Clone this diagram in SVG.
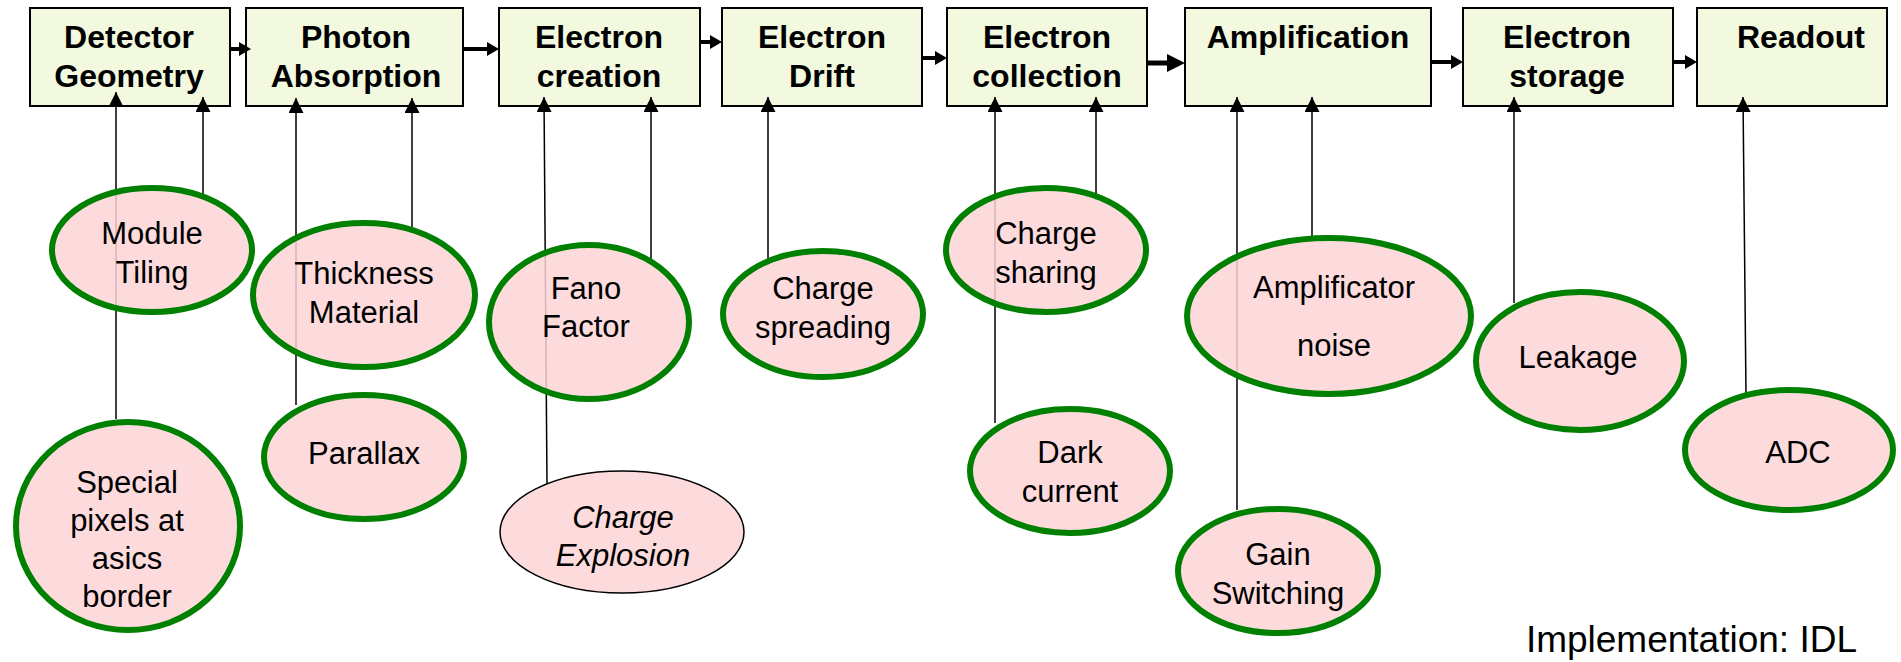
<svg xmlns="http://www.w3.org/2000/svg" width="1901" height="662" viewBox="0 0 1901 662">
  <style>
    .stage { fill: #f2f9de; stroke: #000; stroke-width: 2; }
    .stage-label { font-family: "Liberation Sans", Arial, sans-serif; font-weight: bold; font-size: 32px; fill: #000; text-anchor: middle; }
    .effect { fill: #fdd5d6; fill-opacity: 0.85; stroke: #008000; stroke-width: 6; }
    .effect-thin { fill: #fdd5d6; fill-opacity: 0.85; stroke: #000; stroke-width: 1.5; }
    .effect-label { font-family: "Liberation Sans", Arial, sans-serif; font-size: 31px; fill: #000; text-anchor: middle; }
    .feed { stroke: #000; stroke-width: 1.5; fill: none; marker-end: url(#tipUp); }
    .flow { stroke: #000; stroke-width: 4; fill: none; }
    .head { fill: #000; }
    .note { font-family: "Liberation Sans", Arial, sans-serif; font-size: 37px; fill: #000; text-anchor: end; }
  </style>
  <defs>
    <marker id="tipUp" viewBox="0 0 15 15" markerWidth="15" markerHeight="15" refX="15" refY="7.5" orient="auto" markerUnits="userSpaceOnUse">
      <path d="M0,0 L15,7.5 L0,15 z" fill="#000"/>
    </marker>
  </defs>

  <rect width="1901" height="662" fill="#fff"/>

  <!-- processing stages -->
  <g id="stage-geometry">
    <rect class="stage" x="30" y="8" width="200" height="98"/>
    <text class="stage-label" x="129" y="48">Detector</text>
    <text class="stage-label" x="129" y="87">Geometry</text>
  </g>
  <g id="stage-absorption">
    <rect class="stage" x="246" y="8" width="217" height="98"/>
    <text class="stage-label" x="356" y="48">Photon</text>
    <text class="stage-label" x="356" y="87">Absorption</text>
  </g>
  <g id="stage-creation">
    <rect class="stage" x="499" y="8" width="201" height="98"/>
    <text class="stage-label" x="599" y="48">Electron</text>
    <text class="stage-label" x="599" y="87">creation</text>
  </g>
  <g id="stage-drift">
    <rect class="stage" x="722" y="8" width="200" height="98"/>
    <text class="stage-label" x="822" y="48">Electron</text>
    <text class="stage-label" x="822" y="87">Drift</text>
  </g>
  <g id="stage-collection">
    <rect class="stage" x="947" y="8" width="200" height="98"/>
    <text class="stage-label" x="1047" y="48">Electron</text>
    <text class="stage-label" x="1047" y="87">collection</text>
  </g>
  <g id="stage-amplification">
    <rect class="stage" x="1185" y="8" width="246" height="98"/>
    <text class="stage-label" x="1308" y="48">Amplification</text>
  </g>
  <g id="stage-storage">
    <rect class="stage" x="1463" y="8" width="210" height="98"/>
    <text class="stage-label" x="1567" y="48">Electron</text>
    <text class="stage-label" x="1567" y="87">storage</text>
  </g>
  <g id="stage-readout">
    <rect class="stage" x="1697" y="8" width="190" height="98"/>
    <text class="stage-label" x="1801" y="48">Readout</text>
  </g>

  <!-- connectors: effects feeding the stages, and the stage chain -->
  <g id="connectors">
    <line class="feed" x1="116" y1="419" x2="116" y2="92"/>
    <line class="feed" x1="203" y1="195" x2="203" y2="97"/>
    <line class="feed" x1="296" y1="405" x2="296" y2="98"/>
    <line class="feed" x1="412" y1="232" x2="412" y2="98"/>
    <line class="feed" x1="547" y1="484" x2="544" y2="97"/>
    <line class="feed" x1="651" y1="265" x2="651" y2="97"/>
    <line class="feed" x1="768" y1="265" x2="768" y2="97"/>
    <line class="feed" x1="995" y1="423" x2="995" y2="97"/>
    <line class="feed" x1="1096" y1="200" x2="1096" y2="97"/>
    <line class="feed" x1="1237" y1="510" x2="1237" y2="97"/>
    <line class="feed" x1="1312" y1="237" x2="1312" y2="97"/>
    <line class="feed" x1="1514" y1="303" x2="1514" y2="97"/>
    <line class="feed" x1="1746" y1="395" x2="1743" y2="97"/>

    <line class="flow" x1="230" y1="49" x2="241" y2="49"/>
    <polygon class="head" points="239,42 251,49 239,56"/>
    <line class="flow" x1="463" y1="49" x2="489" y2="49"/>
    <polygon class="head" points="487,42 499,49 487,56"/>
    <line class="flow" x1="700" y1="42" x2="712" y2="42"/>
    <polygon class="head" points="710,35 722,42 710,49"/>
    <line class="flow" x1="922" y1="58" x2="937" y2="58"/>
    <polygon class="head" points="935,51 947,58 935,65"/>
    <line class="flow" x1="1147" y1="63" x2="1170" y2="63" style="stroke-width:5"/>
    <polygon class="head" points="1167,54 1185,63 1167,72"/>
    <line class="flow" x1="1431" y1="62" x2="1453" y2="62"/>
    <polygon class="head" points="1451,55 1463,62 1451,69"/>
    <line class="flow" x1="1673" y1="62" x2="1687" y2="62"/>
    <polygon class="head" points="1685,55 1697,62 1685,69"/>
  </g>

  <!-- effects -->
  <g id="effect-module-tiling">
    <ellipse class="effect" cx="152" cy="250" rx="100" ry="62"/>
    <text class="effect-label" x="152" y="244">Module</text>
    <text class="effect-label" x="152" y="283">Tiling</text>
  </g>
  <g id="effect-special-pixels">
    <ellipse class="effect" cx="128" cy="526" rx="112" ry="104"/>
    <text class="effect-label" x="127" y="493">Special</text>
    <text class="effect-label" x="127" y="531">pixels at</text>
    <text class="effect-label" x="127" y="569">asics</text>
    <text class="effect-label" x="127" y="607">border</text>
  </g>
  <g id="effect-thickness">
    <ellipse class="effect" cx="364" cy="295" rx="111" ry="72"/>
    <text class="effect-label" x="364" y="284">Thickness</text>
    <text class="effect-label" x="364" y="323">Material</text>
  </g>
  <g id="effect-parallax">
    <ellipse class="effect" cx="364" cy="457" rx="100" ry="62"/>
    <text class="effect-label" x="364" y="464">Parallax</text>
  </g>
  <g id="effect-fano">
    <ellipse class="effect" cx="589" cy="322" rx="100" ry="77"/>
    <text class="effect-label" x="586" y="299">Fano</text>
    <text class="effect-label" x="586" y="337">Factor</text>
  </g>
  <g id="effect-charge-explosion">
    <ellipse class="effect-thin" cx="622" cy="532" rx="122" ry="61"/>
    <text class="effect-label" x="623" y="528" font-style="italic">Charge</text>
    <text class="effect-label" x="623" y="566" font-style="italic">Explosion</text>
  </g>
  <g id="effect-charge-spreading">
    <ellipse class="effect" cx="823" cy="314" rx="100" ry="63"/>
    <text class="effect-label" x="823" y="299">Charge</text>
    <text class="effect-label" x="823" y="338">spreading</text>
  </g>
  <g id="effect-charge-sharing">
    <ellipse class="effect" cx="1046" cy="250" rx="100" ry="62"/>
    <text class="effect-label" x="1046" y="244">Charge</text>
    <text class="effect-label" x="1046" y="283">sharing</text>
  </g>
  <g id="effect-dark-current">
    <ellipse class="effect" cx="1070" cy="471" rx="100" ry="62"/>
    <text class="effect-label" x="1070" y="463">Dark</text>
    <text class="effect-label" x="1070" y="502">current</text>
  </g>
  <g id="effect-amplificator-noise">
    <ellipse class="effect" cx="1329" cy="316" rx="142" ry="78"/>
    <text class="effect-label" x="1334" y="298">Amplificator</text>
    <text class="effect-label" x="1334" y="356">noise</text>
  </g>
  <g id="effect-gain-switching">
    <ellipse class="effect" cx="1278" cy="571" rx="100" ry="62"/>
    <text class="effect-label" x="1278" y="565">Gain</text>
    <text class="effect-label" x="1278" y="604">Switching</text>
  </g>
  <g id="effect-leakage">
    <ellipse class="effect" cx="1580" cy="361" rx="104" ry="69"/>
    <text class="effect-label" x="1578" y="368">Leakage</text>
  </g>
  <g id="effect-adc">
    <ellipse class="effect" cx="1789" cy="450" rx="104" ry="60"/>
    <text class="effect-label" x="1798" y="463">ADC</text>
  </g>

  <text class="note" x="1857" y="652">Implementation: IDL</text>
</svg>
